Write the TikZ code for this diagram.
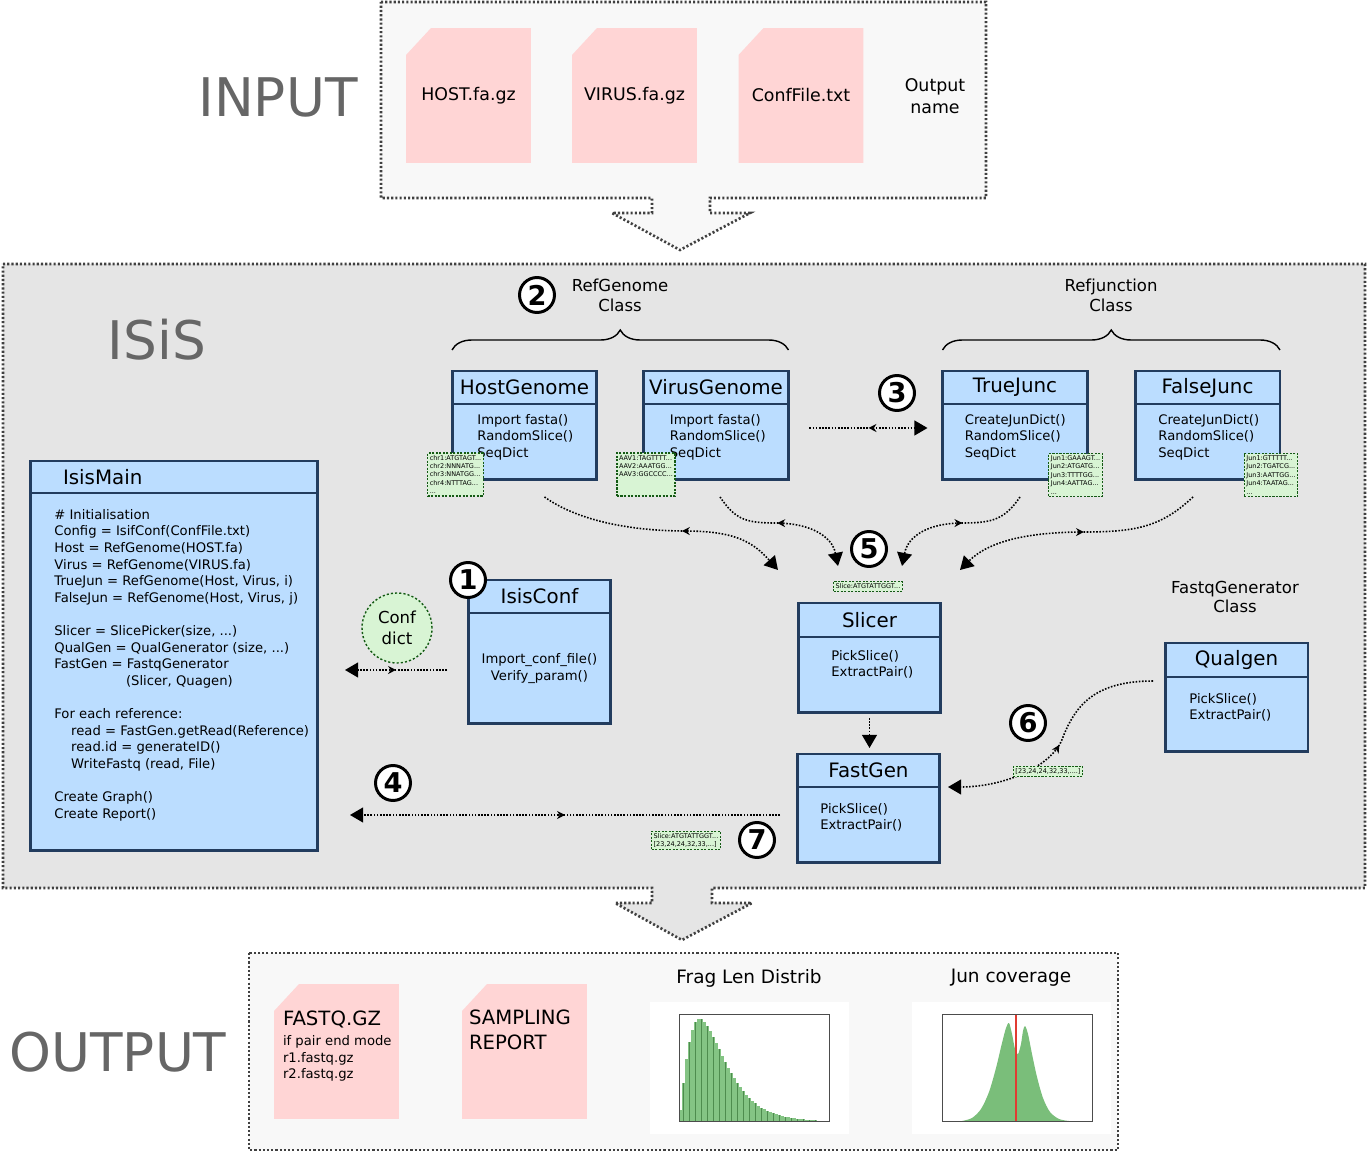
\documentclass[tikz,border=0pt]{standalone}
\usepackage{fontspec}
\setmainfont{DejaVu Sans}
\definecolor{clsblue}{RGB}{187, 221, 255}
\definecolor{clsline}{RGB}{34, 60, 94}
\definecolor{filepink}{RGB}{255, 213, 213}
\definecolor{datgreen}{RGB}{216, 244, 212}
\definecolor{datline}{RGB}{20, 90, 20}
\definecolor{isisgray}{RGB}{229, 229, 229}
\definecolor{iogray}{RGB}{248, 248, 248}
\definecolor{bigtext}{RGB}{102, 102, 102}
\definecolor{histlight}{RGB}{132, 196, 132}
\definecolor{histdark}{RGB}{78, 140, 78}
\definecolor{juncurve}{RGB}{122, 190, 122}
\definecolor{junred}{RGB}{225, 60, 50}
\usetikzlibrary{arrows.meta, positioning, calc, decorations.pathreplacing, decorations.markings}

\begin{document}
\begin{tikzpicture}[
  x=0.02cm, y=-0.02cm,
  ioframe/.style={draw=black!75, line width=1.5pt, dash pattern=on 1.2pt off 1.2pt},
  bigname/.style={text=bigtext, font=\fontsize{30.3}{36}\selectfont},
  clshead/.style={draw=clsline, fill=clsblue, line width=1.7pt, outer sep=0pt, minimum width=2.9cm, minimum height=0.66cm, inner sep=0pt, font=\fontsize{11.3}{13}\selectfont},
  clsbody/.style={draw=clsline, fill=clsblue, line width=1.7pt, outer sep=0pt, minimum width=2.9cm, minimum height=1.52cm, inner sep=0pt},
  methods/.style={anchor=north west, inner sep=0pt, align=left, font=\fontsize{7.5}{9.45}\selectfont},
  databox/.style={draw=datline, fill=datgreen, dash pattern=on 1.2pt off 0.8pt, line width=0.7pt, inner sep=1.2pt, align=left, font=\fontsize{3.7}{4.8}\selectfont},
  numbadge/.style={circle, draw, fill=white, line width=1.7pt, minimum size=0.7cm, inner sep=0pt, font=\bfseries\fontsize{15.5}{16}\selectfont},
  clsname/.style={align=center, font=\fontsize{9.4}{11.3}\selectfont},
  filebox/.style={minimum width=2.5cm, minimum height=2.7cm, inner sep=0pt, font=\fontsize{9.9}{12}\selectfont,
    path picture={\fill[filepink] ([shift={(0,27)}]path picture bounding box.north west) -- ([shift={(25,0)}]path picture bounding box.north west) -- (path picture bounding box.north east) -- (path picture bounding box.south east) -- (path picture bounding box.south west) -- cycle;}},
  plainflow/.style={line width=0.9pt, dash pattern=on 0.9pt off 0.9pt, -{Triangle[length=7.5pt, width=8.5pt]}},
  flow/.style={plainflow, postaction={decorate}, decoration={markings, mark=at position #1 with {\arrowreversed{Stealth[length=4.5pt, width=4.5pt]}}}},
  flow/.default=0.5
]
  \useasboundingbox (0,0) rectangle (1367,1152);

  \draw[ioframe, fill=isisgray] (3,264) -- (1365,264) -- (1365,888) -- (712,888) -- (712,903) -- (752,903) -- (682,940) -- (615,903) -- (652,903) -- (652,888) -- (3,888) -- cycle;
  \draw[ioframe, fill=iogray] (381,2) -- (986,2) -- (986,198) -- (710,198) -- (710,213) -- (750,213) -- (680,250) -- (612,213) -- (652,213) -- (652,198) -- (381,198) -- cycle;
  \draw[ioframe, fill=iogray] (249,953) rectangle (1118,1150);

  \node[bigname] (inputL) at (278,97) {INPUT};
  \node[bigname] (isisL) at (157,340) {ISiS};
  \node[bigname] (outputL) at (118,1052) {OUTPUT};

  \node[filebox] (hostF) at (468.5,95.5) {HOST.fa.gz};
  \node[filebox] (virusF) at (634.5,95.5) {VIRUS.fa.gz};
  \node[filebox] (confF) at (801,95.5) {ConfFile.txt};
  \node[align=center, font=\fontsize{9.9}{12.5}\selectfont] (outName) at (935,96) {Output\\name};

  \node[clsname] (refG) at (620,295) {RefGenome\\Class};
  \node[clsname] (refJ) at (1111,295) {Refjunction\\Class};
  \node[clsname] (fqG) at (1235,597) {FastqGenerator\\Class};

  \node[clshead] (hostH) at (524.5,387.5) {HostGenome};
  \node[clsbody, below=0pt of hostH] (hostB) {};
  \node[methods] (hostM) at ([shift={(25,10)}]hostB.north west) {Import fasta()\\RandomSlice()\\SeqDict};
  \node[clshead] (virusH) at (716,387.5) {VirusGenome};
  \node[clsbody, below=0pt of virusH] (virusB) {};
  \node[methods] (virusM) at ([shift={(26,10)}]virusB.north west) {Import fasta()\\RandomSlice()\\SeqDict};
  \node[clshead] (trueH) at (1015,387.5) {TrueJunc};
  \node[clsbody, below=0pt of trueH] (trueB) {};
  \node[methods] (trueM) at ([shift={(22,10)}]trueB.north west) {CreateJunDict()\\RandomSlice()\\SeqDict};
  \node[clshead] (falseH) at (1207.5,387.5) {FalseJunc};
  \node[clsbody, below=0pt of falseH] (falseB) {};
  \node[methods] (falseM) at ([shift={(23,10)}]falseB.north west) {CreateJunDict()\\RandomSlice()\\SeqDict};

  \draw[decorate, decoration={brace, amplitude=0.4cm}, line width=0.8pt] ([shift={(0,-21)}]hostH.north west) -- ([shift={(0,-21)}]virusH.north east);
  \draw[decorate, decoration={brace, amplitude=0.4cm}, line width=0.8pt] ([shift={(0,-21)}]trueH.north west) -- ([shift={(0,-21)}]falseH.north east);

  \node[clshead, minimum width=5.76cm, minimum height=0.64cm, text width=4.44cm, align=left] (mainH) at (174,477) {IsisMain};
  \node[clsbody, minimum width=5.76cm, minimum height=7.16cm, below=0pt of mainH] (mainB) {};
  \node[methods] (mainM) at ([shift={(24,16)}]mainB.north west) {\# Initialisation\\
    Config = IsifConf(ConfFile.txt)\\
    Host = RefGenome(HOST.fa)\\
    Virus = RefGenome(VIRUS.fa)\\
    TrueJun = RefGenome(Host, Virus, i)\\
    FalseJun = RefGenome(Host, Virus, j)\\[9.45pt]
    Slicer = SlicePicker(size, ...)\\
    QualGen = QualGenerator (size, ...)\\
    FastGen = FastqGenerator\\
    \hspace*{40.8pt}(Slicer, Quagen)\\[9.45pt]
    For each reference:\\
    \hspace*{9.6pt}read = FastGen.getRead(Reference)\\
    \hspace*{9.6pt}read.id = generateID()\\
    \hspace*{9.6pt}WriteFastq (read, File)\\[9.45pt]
    Create Graph()\\
    Create Report()};

  \node[clshead, minimum width=2.86cm] (confH) at (539.5,596.5) {IsisConf};
  \node[clsbody, minimum width=2.86cm, minimum height=2.22cm, below=0pt of confH, align=center, font=\fontsize{7.5}{9.4}\selectfont] (confB) {Import\_conf\_file()\\Verify\_param()};
  \node[circle, draw=datline, fill=datgreen, dash pattern=on 1.2pt off 1.2pt, line width=0.8pt, minimum size=1.4cm, inner sep=0pt, align=center, font=\fontsize{9.4}{11.9}\selectfont] (confD) at (397,628) {Conf\\dict};

  \node[clshead, minimum width=2.86cm, minimum height=0.68cm] (slicerH) at (869.5,620) {Slicer};
  \node[clsbody, minimum width=2.86cm, below=0pt of slicerH] (slicerB) {};
  \node[methods] (slicerM) at ([shift={(33,13)}]slicerB.north west) {PickSlice()\\ExtractPair()};
  \node[clshead, minimum width=2.86cm] (fastH) at (868.5,770.5) {FastGen};
  \node[clsbody, minimum width=2.86cm, below=0pt of fastH] (fastB) {};
  \node[methods] (fastM) at ([shift={(23,16)}]fastB.north west) {PickSlice()\\ExtractPair()};
  \node[clshead, minimum width=2.86cm, minimum height=0.68cm] (qualH) at (1236.5,660) {Qualgen};
  \node[clsbody, minimum width=2.86cm, minimum height=1.5cm, below=0pt of qualH] (qualB) {};
  \node[methods] (qualM) at ([shift={(24,16)}]qualB.north west) {PickSlice()\\ExtractPair()};

  \coordinate (hostV) at (685,531);
  \coordinate (virusV) at (775,523);
  \coordinate (trueV) at (963,523);
  \coordinate (falseV) at (1085,532);
  \coordinate (qualV) at (1063,737);

  \draw[flow] ([shift={(-21,1.5)}]confB.west) -- ($(mainB.east |- confB.west)+(27,1.5)$);
  \draw[flow] ([shift={(-17,-10)}]fastB.west) -- ($(mainB.east |- fastB.west)+(32,-10)$);
  \draw[flow] ([shift={(21,-14)}]virusB.east) -- ([shift={(-15,-14)}]trueB.west);
  \draw[flow=0.57] ([shift={(20,17)}]hostB.south) .. controls +(35,25) and +(-50,0) .. (hostV) .. controls +(50,0) and +(-25,-28) .. ([shift={(-20,-33)}]slicerH.north west);
  \draw[flow=0.45] ([shift={(4,17)}]virusB.south) .. controls +(15,22) and +(-30,0) .. (virusV) .. controls +(35,0) and +(-6,-30) .. ([shift={(-31.5,-37)}]slicerH.north);
  \draw[flow=0.45] ([shift={(5,17)}]trueB.south) .. controls +(-15,22) and +(30,0) .. (trueV) .. controls +(-35,0) and +(6,-30) .. ([shift={(32.5,-37)}]slicerH.north);
  \draw[flow=0.47] ([shift={(-14.5,17)}]falseB.south) .. controls +(-30,28) and +(55,0) .. (falseV) .. controls +(-60,0) and +(28,-28) .. ([shift={(19,-33)}]slicerH.north east);
  \draw[flow] ([shift={(-12,4)}]qualB.north west) .. controls +(-60,0) and +(12,-30) .. (qualV) .. controls +(-10,30) and +(55,0) .. ([shift={(8,0)}]fastB.north east);
  \draw[plainflow] ([shift={(0,5)}]slicerB.south) -- ($(fastH.north -| slicerB.south)+(0,-6)$);

  \node[databox] (hostD) at (455.5,474.5) {chr1:ATGTAGT...\\chr2:NNNATG...\\chr3:NNATGG...\\chr4:NTTTAG...\\...};
  \node[databox] (virusD) at (646,474.5) {AAV1:TAGTTTT...\\AAV2:AAATGG...\\AAV3:GGCCCC...\\~\\~};
  \node[databox] (trueD) at (1075.5,475) {Jun1:GAAAGT...\\Jun2:ATGATG...\\Jun3:TTTTGG...\\Jun4:AATTAG...\\...};
  \node[databox] (falseD) at (1271,475) {Jun1:GTTTTT...\\Jun2:TGATCG...\\Jun3:AATTGG...\\Jun4:TAATAG...\\...};
  \node[databox] (sliceD) at (868,586.5) {Slice:ATGTATTGGT...};
  \node[databox] (qualD) at (1048,771.5) {{[}23,24,24,32,33,....{]}};
  \node[databox] (outD) at (686,840.5) {Slice:ATGTATTGGT...\\{[}23,24,24,32,33,...{]}};

  \node[numbadge] (n1) at (confH.north west) {1};
  \node[numbadge] (n2) at (537,295) {2};
  \node[numbadge] (n3) at (897,393) {3};
  \node[numbadge] (n4) at (393,783) {4};
  \node[numbadge] (n5) at (869,549) {5};
  \node[numbadge] (n6) at (1028,723) {6};
  \node[numbadge] (n7) at (757,840) {7};

  \node[filebox] (fastqF) at (336.5,1051.5) {};
  \node[methods] (fastqT) at ([shift={(9,27)}]fastqF.north west) {{\fontsize{11.2}{12}\selectfont FASTQ.GZ}\\[2pt]if pair end mode\\r1.fastq.gz\\r2.fastq.gz};
  \node[filebox] (reportF) at (524.5,1051.5) {};
  \node[methods, font=\fontsize{11.2}{14.2}\selectfont] (reportT) at ([shift={(7,26)}]reportF.north west) {SAMPLING\\REPORT};

  \node[font=\fontsize{10.5}{12}\selectfont] (fragT) at (749,978) {Frag Len Distrib};
  \node[fill=white, minimum width=3.98cm, minimum height=2.64cm, inner sep=0pt] (fragP) at (749.5,1068) {};
  \foreach \i in {0,...,45}{
    \pgfmathsetmacro\hh{102*pow((3*\i+1.5)/150/0.14,1.3)*exp(1.3*(1-(3*\i+1.5)/150/0.14))}
    \fill[histlight] (679+3*\i,1121) rectangle ++(3,-\hh);
    \ifodd\i \fill[histdark] (680+3*\i,1121) rectangle ++(1.2,-\hh);\fi
  }
  \draw[black!70, line width=0.4pt] (679,1014) rectangle (829,1121);

  \node[font=\fontsize{10.5}{12}\selectfont] (junT) at (1011,978) {Jun coverage};
  \node[fill=white, minimum width=3.98cm, minimum height=2.64cm, inner sep=0pt] (junP) at (1011.5,1068) {};
  \fill[juncurve] plot[smooth, tension=0.5] coordinates {(962,1121) (972,1118) (981,1109) (989,1092) (996,1068) (1002,1043) (1006,1028) (1009,1023) (1012,1034) (1015,1049) (1018,1054) (1021,1044) (1023,1031) (1025,1026) (1028,1034) (1032,1054) (1037,1077) (1043,1098) (1050,1112) (1059,1119) (1069,1121)} -- cycle;
  \draw[junred, line width=0.8pt] (1016,1014) -- (1016,1121);
  \draw[black!70, line width=0.4pt] (942,1014) rectangle (1092,1121);
\end{tikzpicture}
\end{document}
